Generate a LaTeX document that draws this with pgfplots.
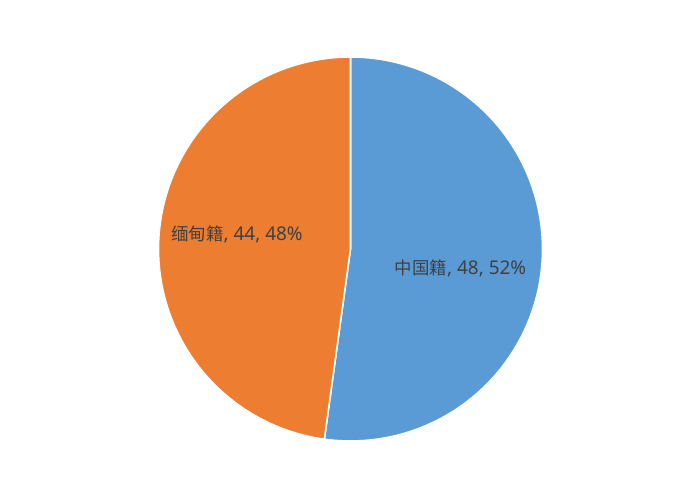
\documentclass[border=0pt]{standalone}
\usepackage{pgfplots}
\pgfplotsset{compat=1.18}
\usepackage{fontspec}
\setmainfont{Noto Sans}
\newfontfamily\cjk{Noto Sans CJK SC}
\definecolor{pieblue}{HTML}{5B9BD5}
\definecolor{pieorange}{HTML}{ED7D31}
\definecolor{labelgray}{HTML}{404040}
\begin{document}
\begin{tikzpicture}
% data: 中国籍 48, 缅甸籍 44
\def\vA{48}
\def\vB{44}
\pgfmathsetmacro{\tot}{\vA+\vB}
\pgfmathsetmacro{\aA}{90}
\pgfmathsetmacro{\aB}{90-360*(\vA/\tot)}
\pgfmathsetmacro{\aC}{\aB-360*(\vB/\tot)}
\begin{axis}[
  width=700bp, height=500bp, scale only axis,
  xmin=0, xmax=700, ymin=0, ymax=500,
  axis lines=none, clip=false,
]
\path[draw=none, fill=none] (axis cs:0,0) rectangle (axis cs:700,500);
\addplot[fill=pieblue, draw=white, line width=1.6pt, samples=240, domain=\aA:\aB, variable=\t]
  ({350.5+192*cos(t)},{251+192*sin(t)}) -- (axis cs:350.5,251) -- cycle;
\addplot[fill=pieorange, draw=white, line width=1.6pt, samples=240, domain=\aB:\aC, variable=\t]
  ({350.5+192*cos(t)},{251+192*sin(t)}) -- (axis cs:350.5,251) -- cycle;
\node[text=labelgray, font=\fontsize{19}{22}\selectfont, inner sep=0pt] at (axis cs:460.5,232) {{\cjk\fontsize{17.5}{22}\selectfont 中国籍}, 48, 52\%};
\node[text=labelgray, font=\fontsize{19}{22}\selectfont, inner sep=0pt] at (axis cs:237,266) {{\cjk\fontsize{17.5}{22}\selectfont 缅甸籍}, 44, 48\%};
\end{axis}
\end{tikzpicture}
\end{document}
